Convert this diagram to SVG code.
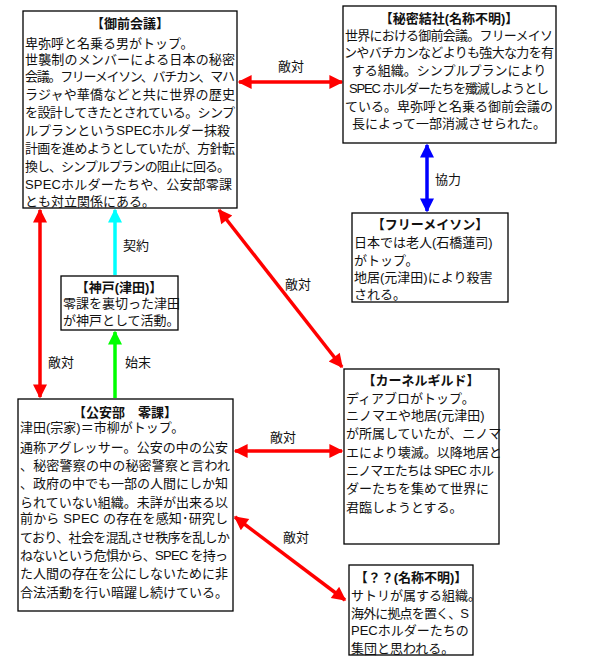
<svg xmlns="http://www.w3.org/2000/svg" width="600" height="664" viewBox="0 0 600 664">
<style>
text{font-family:"Liberation Sans","Noto Sans CJK JP",sans-serif;font-size:13px;fill:#111}
.t{font-weight:bold;text-anchor:middle}
.c{text-anchor:middle}
.b{fill:#fff;stroke:#000;stroke-width:1.3}
.l{stroke-width:3.5;fill:none}
</style>
<defs>
<marker id="mr" viewBox="0 0 10 10" refX="9" refY="5" markerWidth="5" markerHeight="4" orient="auto-start-reverse" markerUnits="strokeWidth"><path d="M0,0L10,5L0,10z" fill="#f00"/></marker>
<marker id="mb" viewBox="0 0 10 10" refX="9" refY="5" markerWidth="5" markerHeight="4" orient="auto-start-reverse" markerUnits="strokeWidth"><path d="M0,0L10,5L0,10z" fill="#00f"/></marker>
<marker id="mc" viewBox="0 0 10 10" refX="9" refY="5" markerWidth="5" markerHeight="4" orient="auto-start-reverse" markerUnits="strokeWidth"><path d="M0,0L10,5L0,10z" fill="#0ff"/></marker>
<marker id="mg" viewBox="0 0 10 10" refX="9" refY="5" markerWidth="5" markerHeight="4" orient="auto-start-reverse" markerUnits="strokeWidth"><path d="M0,0L10,5L0,10z" fill="#0f0"/></marker>
</defs>
<rect width="600" height="664" fill="#fff"/>
<g id="connectors">
<line class="l" x1="239" y1="82" x2="342" y2="82" stroke="#f00" marker-start="url(#mr)" marker-end="url(#mr)"/>
<text x="278" y="71">敵対</text>
<line class="l" x1="427" y1="145" x2="427" y2="211" stroke="#00f" marker-start="url(#mb)" marker-end="url(#mb)"/>
<text x="435" y="184">協力</text>
<line class="l" x1="40" y1="210" x2="40" y2="397" stroke="#f00" marker-start="url(#mr)" marker-end="url(#mr)"/>
<text x="48" y="367">敵対</text>
<line class="l" x1="115" y1="275" x2="115" y2="210" stroke="#0ff" marker-end="url(#mc)"/>
<text x="123" y="250">契約</text>
<line class="l" x1="115" y1="398" x2="115" y2="332" stroke="#0f0" marker-end="url(#mg)"/>
<text x="125" y="367">始末</text>
<line class="l" x1="219" y1="210" x2="342" y2="367" stroke="#f00" marker-start="url(#mr)" marker-end="url(#mr)"/>
<text x="285" y="289">敵対</text>
<line class="l" x1="235" y1="451" x2="342" y2="451" stroke="#f00" marker-start="url(#mr)" marker-end="url(#mr)"/>
<text x="270" y="442">敵対</text>
<line class="l" x1="235" y1="517" x2="345" y2="600" stroke="#f00" marker-start="url(#mr)" marker-end="url(#mr)"/>
<text x="283" y="542">敵対</text>
</g>
<g id="gozen">
<rect class="b" x="23" y="11" width="214" height="197"/>
<text class="t" x="130" y="28">【御前会議】</text>
<text x="25" y="48">卑弥呼と名乗る男がトップ。</text>
<text x="25" y="64" textLength="210">世襲制のメンバーによる日本の秘密</text>
<text x="25" y="81" textLength="210">会議。フリーメイソン、バチカン、マハ</text>
<text x="25" y="99" textLength="210">ラジャや華僑などと共に世界の歴史</text>
<text x="25" y="117" textLength="210">を設計してきたとされている。シンプ</text>
<text x="25" y="135" textLength="205">ルプランというSPECホルダー抹殺</text>
<text x="25" y="153" textLength="210">計画を進めようとしていたが、方針転</text>
<text x="25" y="171" textLength="205">換し、シンプルプランの阻止に回る。</text>
<text x="25" y="189" textLength="207">SPECホルダーたちや、公安部零課</text>
<text x="25" y="206">とも対立関係にある。</text>
</g>
<g id="himitsu">
<rect class="b" x="343" y="6" width="213" height="137"/>
<text class="t" x="449" y="23">【秘密結社(名称不明)】</text>
<text class="c" x="449" y="40" textLength="208">世界における御前会議。フリーメイソ</text>
<text class="c" x="449" y="57" textLength="210">ンやバチカンなどよりも強大な力を有</text>
<text class="c" x="449" y="75">する組織。シンプルプランにより</text>
<text class="c" x="449" y="93" textLength="200">SPEC ホルダーたちを殲滅しようとし</text>
<text class="c" x="449" y="111">ている。卑弥呼と名乗る御前会議の</text>
<text class="c" x="449" y="128">長によって一部消滅させられた。</text>
</g>
<g id="freemason">
<rect class="b" x="352" y="213" width="156" height="89"/>
<text class="t" x="430" y="229">【フリーメイソン】</text>
<text x="354" y="247">日本では老人(石橋蓮司)</text>
<text x="354" y="265">がトップ。</text>
<text x="354" y="282">地居(元津田)により殺害</text>
<text x="354" y="299">される。</text>
</g>
<g id="kobe">
<rect class="b" x="61" y="276" width="117" height="54"/>
<text class="t" x="119" y="292">【神戸(津田)】</text>
<text x="63" y="308">零課を裏切った津田</text>
<text x="63" y="325">が神戸として活動。</text>
</g>
<g id="koan">
<rect class="b" x="18" y="399" width="215" height="212"/>
<text class="t" x="125" y="417">【公安部　零課】</text>
<text x="20" y="432">津田(宗家)＝市柳がトップ。</text>
<text x="20" y="452" textLength="208">通称アグレッサー。公安の中の公安</text>
<text x="20" y="470" textLength="210">、秘密警察の中の秘密警察と言われ</text>
<text x="20" y="488" textLength="208">、政府の中でも一部の人間にしか知</text>
<text x="20" y="507" textLength="208">られていない組織。未詳が出来る以</text>
<text x="20" y="523" textLength="208">前から SPEC の存在を感知･研究し</text>
<text x="20" y="542" textLength="210">ており、社会を混乱させ秩序を乱しか</text>
<text x="20" y="560" textLength="208">ねないという危惧から、SPEC を持っ</text>
<text x="20" y="578" textLength="208">た人間の存在を公にしないために非</text>
<text x="20" y="597">合法活動を行い暗躍し続けている。</text>
</g>
<g id="kernel">
<rect class="b" x="344" y="369" width="155" height="175"/>
<text class="t" x="421" y="385">【カーネルギルド】</text>
<text x="346" y="403">ディアブロがトップ。</text>
<text x="346" y="420">ニノマエや地居(元津田)</text>
<text x="346" y="438">が所属していたが、ニノマ</text>
<text x="346" y="457">エにより壊滅。以降地居と</text>
<text x="346" y="475" textLength="148">ニノマエたちは SPEC ホル</text>
<text x="346" y="493">ダーたちを集めて世界に</text>
<text x="346" y="512">君臨しようとする。</text>
</g>
<g id="unknown">
<rect class="b" x="349" y="565" width="124" height="90"/>
<text class="t" x="411" y="582">【？？(名称不明)】</text>
<text x="351" y="600">サトリが属する組織。</text>
<text x="351" y="618" textLength="118">海外に拠点を置く、S</text>
<text x="351" y="635">PECホルダーたちの</text>
<text x="351" y="653">集団と思われる。</text>
</g>
</svg>
